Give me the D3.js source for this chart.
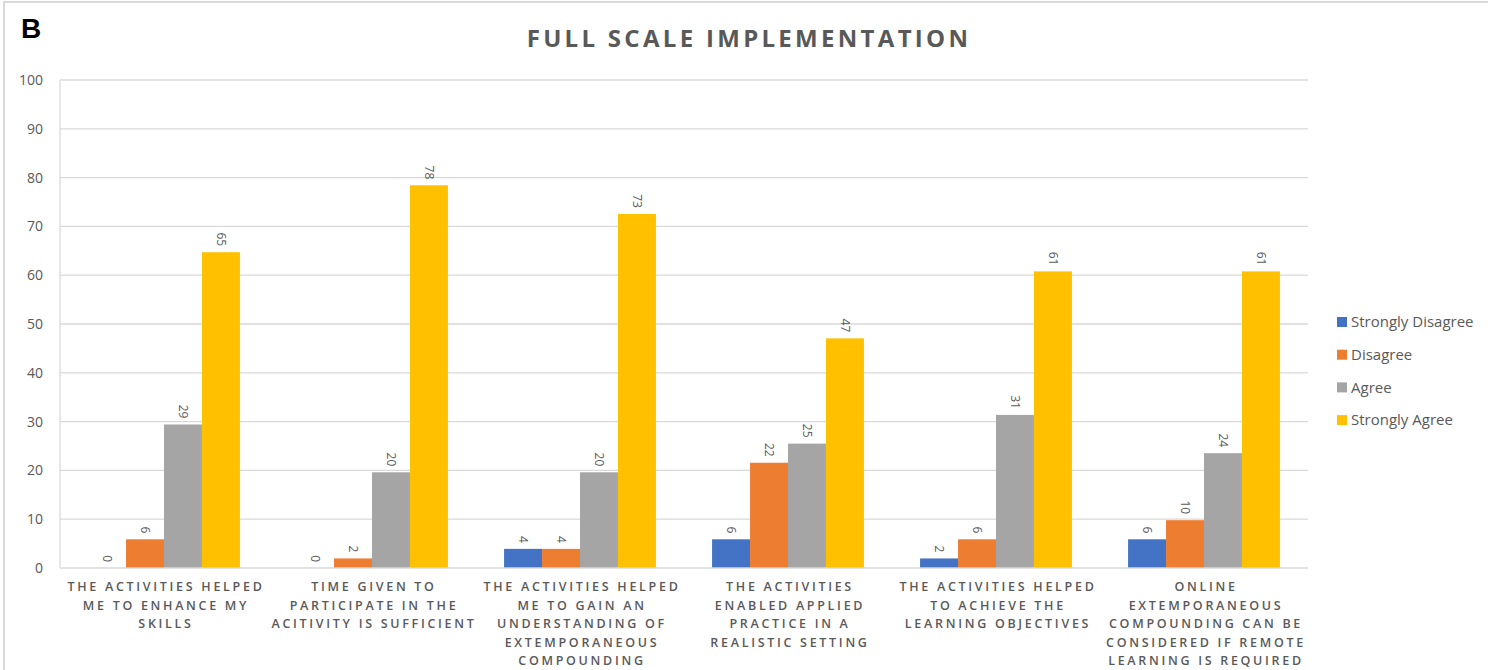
<!DOCTYPE html>
<html>
<head>
<meta charset="utf-8">
<script src="https://cdnjs.cloudflare.com/ajax/libs/d3/7.8.5/d3.min.js"></script>
<style>
  body { margin: 0; background: #fff; }
  svg { display: block; }
</style>
</head>
<body>
<div id="chart"></div>
<script>
const WIDTH = 1488
const HEIGHT = 670
const margin = {top: 80, right: 180, bottom: 102, left: 60};

const width = WIDTH - margin.left - margin.right;
const height = HEIGHT - margin.top - margin.bottom;

// Categorias (las lineas de cada etiqueta)
const categories = [
  ["THE ACTIVITIES HELPED", "ME TO ENHANCE MY", "SKILLS"],
  ["TIME GIVEN TO", "PARTICIPATE IN THE", "ACITIVITY IS SUFFICIENT"],
  ["THE ACTIVITIES HELPED", "ME TO GAIN AN", "UNDERSTANDING OF", "EXTEMPORANEOUS", "COMPOUNDING"],
  ["THE ACTIVITIES", "ENABLED APPLIED", "PRACTICE IN A", "REALISTIC SETTING"],
  ["THE ACTIVITIES HELPED", "TO ACHIEVE THE", "LEARNING OBJECTIVES"],
  ["ONLINE", "EXTEMPORANEOUS", "COMPOUNDING CAN BE", "CONSIDERED IF REMOTE", "LEARNING IS REQUIRED"]
];

const seriesNames = ["Strongly Disagree", "Disagree", "Agree", "Strongly Agree"];
const seriesColors = ["#4472C4", "#ED7D31", "#A5A5A5", "#FFC000"];

// porcentaje por serie, uno por categoria
const stronglyDisagree = [0, 0, 3.92, 5.88, 1.96, 5.88];
const disagree = [5.88, 1.96, 3.92, 21.57, 5.88, 9.80];
const agree = [29.41, 19.61, 19.61, 25.49, 31.37, 23.53];
const stronglyAgree = [64.71, 78.43, 72.55, 47.06, 60.78, 60.78];

const yTicks = [0, 10, 20, 30, 40, 50, 60, 70, 80, 90, 100];

const allSeries = [stronglyDisagree, disagree, agree, stronglyAgree];

const svg = d3.select('#chart')
  .append('svg')
    .attr('width', WIDTH)
    .attr('height', HEIGHT);

// marco exterior
svg.append('rect')
  .attr('x', 4).attr('y', 2)
  .attr('width', WIDTH - 2).attr('height', HEIGHT + 10)
  .attr('fill', 'none')
  .attr('stroke', '#d9d9d9')
  .attr('stroke-width', 2);

svg.append('text')
  .attr('x', 21).attr('y', 38)
  .style('font-family', 'Liberation Sans, Arial, sans-serif')
  .style('font-weight', 'bold')
  .style('font-size', '28px')
  .attr('fill', '#000')
  .text('B');

svg.append('text')
  .attr('x', 749).attr('y', 47)
  .attr('text-anchor', 'middle')
  .style('font-family', 'Open Sans, sans-serif')
  .style('font-weight', 'bold')
  .style('font-size', '24px')
  .style('letter-spacing', '3.3px')
  .attr('fill', '#595959')
  .text('FULL SCALE IMPLEMENTATION');

const container = svg.append('g')
  .attr('transform', `translate(${margin.left},${margin.top})`);

const x0 = d3.scaleBand()
  .domain(d3.range(categories.length))
  .range([0, width])
  .paddingInner(0.27)
  .paddingOuter(0.135);

const x1 = d3.scaleBand()
  .domain(d3.range(seriesNames.length))
  .range([0, x0.bandwidth()]);

const yscale = d3.scaleLinear()
  .domain([0, 100])
  .range([height, 0]);

// lineas de la grilla
container.append('g')
  .selectAll('line')
  .data(yTicks.slice(1))
  .join('line')
    .attr('x1', 0).attr('x2', width)
    .attr('y1', d => yscale(d)).attr('y2', d => yscale(d))
    .attr('stroke', '#d9d9d9')
    .attr('stroke-width', 1.3);

// borde izquierdo del area de trazado
container.append('line')
  .attr('x1', 0).attr('x2', 0)
  .attr('y1', 0).attr('y2', height)
  .attr('stroke', '#d9d9d9')
  .attr('stroke-width', 1.3);

// eje y solo con etiquetas
const axisLeft = d3.axisLeft(yscale).tickValues(yTicks).tickSize(0).tickPadding(17);
const yAxis = container.append('g').call(axisLeft);
yAxis.select('.domain').remove();
yAxis.selectAll('text')
  .style('font-family', 'Open Sans, sans-serif')
  .style('font-size', '14px')
  .attr('fill', '#595959');

const groups = container.selectAll('.group')
  .data(categories.map((c, i) => i))
  .join('g')
    .attr('class', 'group')
    .attr('transform', i => `translate(${x0(i)},0)`);

groups.selectAll('rect')
  .data(i => allSeries.map((s, j) => ({j: j, v: s[i]})))
  .join('rect')
    .attr('x', d => x1(d.j))
    .attr('y', d => yscale(d.v))
    .attr('width', x1.bandwidth())
    .attr('height', d => height - yscale(d.v))
    .attr('fill', d => seriesColors[d.j]);

// etiquetas de valor rotadas
groups.selectAll('text.val')
  .data(i => allSeries.map((s, j) => ({j: j, v: s[i]})))
  .join('text')
    .attr('class', 'val')
    .attr('transform', d => `translate(${x1(d.j) + x1.bandwidth() / 2},${yscale(d.v) - 6}) rotate(90)`)
    .attr('text-anchor', 'end')
    .attr('dy', '0.35em')
    .style('font-family', 'Open Sans, sans-serif')
    .style('font-size', '12px')
    .attr('fill', '#595959')
    .text(d => Math.round(d.v));

// eje x
container.append('line')
  .attr('x1', 0).attr('x2', width)
  .attr('y1', height).attr('y2', height)
  .attr('stroke', '#d9d9d9')
  .attr('stroke-width', 1.5);

const xLabels = container.selectAll('.xlabel')
  .data(categories)
  .join('text')
    .attr('class', 'xlabel')
    .attr('text-anchor', 'middle')
    .style('font-family', 'Open Sans, sans-serif')
    .style('font-weight', '600')
    .style('font-size', '12.5px')
    .style('letter-spacing', '2.7px')
    .attr('fill', '#595959')
    .attr('transform', (d, i) => `translate(${x0(i) + x0.bandwidth() / 2 + 2},${height + 23})`);

xLabels.selectAll('tspan')
  .data(d => d)
  .join('tspan')
    .attr('x', 0)
    .attr('y', (d, k) => k * 18.6)
    .text(d => d);

// leyenda
const legend = svg.append('g')
  .attr('transform', 'translate(1337,322)');

const legendItem = legend.selectAll('g')
  .data(seriesNames)
  .join('g')
    .attr('transform', (d, i) => `translate(0,${i * 32.7})`);

legendItem.append('rect')
  .attr('x', 0).attr('y', -5)
  .attr('width', 10).attr('height', 10)
  .attr('fill', (d, i) => seriesColors[i]);

legendItem.append('text')
  .attr('x', 14)
  .attr('dy', '0.35em')
  .style('font-family', 'Open Sans, sans-serif')
  .style('font-size', '15px')
  .attr('fill', '#595959')
  .text(d => d);
</script>
</body>
</html>
